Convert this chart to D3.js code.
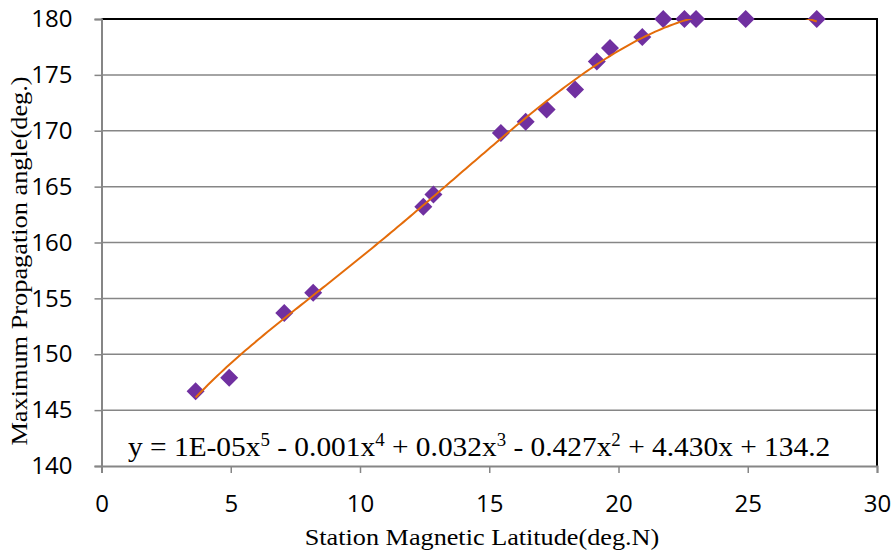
<!DOCTYPE html>
<html>
<head>
<meta charset="utf-8">
<script src="https://cdn.jsdelivr.net/npm/d3@7"></script>
<style>
  body { margin: 0; background: #fff; }
  svg { display: block; }
</style>
</head>
<body>
<svg id="chart" width="895" height="555"></svg>
<script>
// station magnetic latitude (deg.N) and maximum propagation angle (deg.)
var latitude = [3.64, 4.94, 7.07, 8.19, 12.45, 12.84, 15.45, 16.41, 17.22, 18.32, 19.16, 19.67, 20.92, 21.73, 22.55, 23.0, 24.92, 27.67];
var maxAngle = [146.7, 147.9, 153.7, 155.5, 163.2, 164.3, 169.8, 170.8, 171.9, 173.7, 176.2, 177.4, 178.4, 180, 180, 180, 180, 180];
var xTicks = [0, 5, 10, 15, 20, 25, 30];
var yTicks = [140, 145, 150, 155, 160, 165, 170, 175, 180];
var equationText = "y = 1E-05x5 - 0.001x4 + 0.032x3 - 0.427x2 + 4.430x + 134.2";

var svg = d3.select("#chart"),
    mLeft = 101.5, mRight = 877, mTop = 19, mBottom = 466;

var x = d3.scaleLinear().domain([0, 30]).range([mLeft, mRight]);
var y = d3.scaleLinear().domain([140, 180]).range([mBottom, mTop]);

// grid lines
svg.append("g").selectAll("line")
    .data(yTicks.slice(1, -1))
    .enter().append("line")
    .attr("x1", mLeft).attr("x2", mRight)
    .attr("y1", d => y(d)).attr("y2", d => y(d))
    .attr("stroke", "#868686").attr("stroke-width", 1.5);

// plot border top and right
svg.append("path")
    .attr("d", "M" + mLeft + "," + mTop + "H" + mRight + "V" + mBottom)
    .attr("fill", "none").attr("stroke", "#000").attr("stroke-width", 2);

// least squares polynomial trendline, order 5 (scaled x for stability)
function polyFit(xs, ys, deg) {
    var n = deg + 1, A = [], b = [];
    for (var i = 0; i < n; i++) { A.push(new Array(n).fill(0)); b.push(0); }
    xs.forEach((xv, k) => {
        var t = (xv - 15) / 12;
        for (var i = 0; i < n; i++) {
            b[i] += Math.pow(t, i) * ys[k];
            for (var j = 0; j < n; j++) A[i][j] += Math.pow(t, i + j);
        }
    });
    for (var c = 0; c < n; c++) {
        var p = c;
        for (var r = c + 1; r < n; r++) if (Math.abs(A[r][c]) > Math.abs(A[p][c])) p = r;
        [A[c], A[p]] = [A[p], A[c]]; [b[c], b[p]] = [b[p], b[c]];
        for (var r = c + 1; r < n; r++) {
            var f = A[r][c] / A[c][c];
            for (var j = c; j < n; j++) A[r][j] -= f * A[c][j];
            b[r] -= f * b[c];
        }
    }
    var coef = new Array(n).fill(0);
    for (var r = n - 1; r >= 0; r--) {
        var s = b[r];
        for (var j = r + 1; j < n; j++) s -= A[r][j] * coef[j];
        coef[r] = s / A[r][r];
    }
    return xv => coef.reduce((acc, cv, i) => acc + cv * Math.pow((xv - 15) / 12, i), 0);
}
var fit = polyFit(latitude, maxAngle, 5);
var xMin = d3.min(latitude), xMax = d3.max(latitude);
var trend = d3.range(0, 201).map(i => {
    var xv = xMin + (xMax - xMin) * i / 200;
    return [xv, fit(xv)];
});

svg.append("clipPath").attr("id", "plotClip")
    .append("rect").attr("x", mLeft).attr("y", mTop).attr("width", mRight - mLeft).attr("height", mBottom - mTop);

// markers
svg.append("g").selectAll("path")
    .data(latitude)
    .enter().append("path")
    .attr("d", "M0,-9L9,0L0,9L-9,0Z")
    .attr("transform", (d, i) => "translate(" + x(d) + "," + y(maxAngle[i]) + ")")
    .attr("fill", "#7030A0");

svg.append("path")
    .datum(trend)
    .attr("clip-path", "url(#plotClip)")
    .attr("d", d3.line().x(d => x(d[0])).y(d => y(d[1])))
    .attr("fill", "none").attr("stroke", "#E46C0A").attr("stroke-width", 2);

// axes
var yAxis = d3.axisLeft(y).tickValues(yTicks).tickSize(7).tickPadding(22);
var gy = svg.append("g").attr("transform", "translate(" + mLeft + ",0)").call(yAxis);
var xAxis = d3.axisBottom(x).tickValues(xTicks).tickSize(7).tickPadding(22);
var gx = svg.append("g").attr("transform", "translate(0," + mBottom + ")").call(xAxis);
[gx, gy].forEach(g => {
    g.select(".domain").attr("stroke", "#868686").attr("stroke-width", 2);
    g.selectAll(".tick line").attr("stroke", "#868686").attr("stroke-width", 1.5);
    g.selectAll(".tick text").attr("fill", "#000")
        .style("font-family", "'Open Sans', sans-serif").style("font-size", "24px");
});

// equation
var eq = svg.append("text").attr("transform", "translate(128,456) scale(1.05,1)")
    .style("font-family", "'Liberation Serif', serif").style("font-size", "28px").attr("fill", "#000");
var parts = equationText.split(/(x\d)/), shift = 0;
parts.forEach(p => {
    if (/x\d/.test(p)) {
        eq.append("tspan").attr("dy", -shift).text("x");
        eq.append("tspan").attr("dy", -10).style("font-size", "18px").text(p[1]);
        shift = -10;
    } else {
        eq.append("tspan").attr("dy", -shift).text(p);
        shift = 0;
    }
});

// axis titles
svg.append("text").attr("transform", "translate(482,545) scale(1.14,1)").attr("text-anchor", "middle")
    .style("font-family", "'Liberation Serif', serif").style("font-size", "23px")
    .text("Station Magnetic Latitude(deg.N)");
svg.append("text").attr("transform", "translate(27,261) rotate(-90) scale(1.145,1)").attr("text-anchor", "middle")
    .style("font-family", "'Liberation Serif', serif").style("font-size", "23px")
    .text("Maximum Propagation angle(deg.)");
</script>
</body>
</html>
